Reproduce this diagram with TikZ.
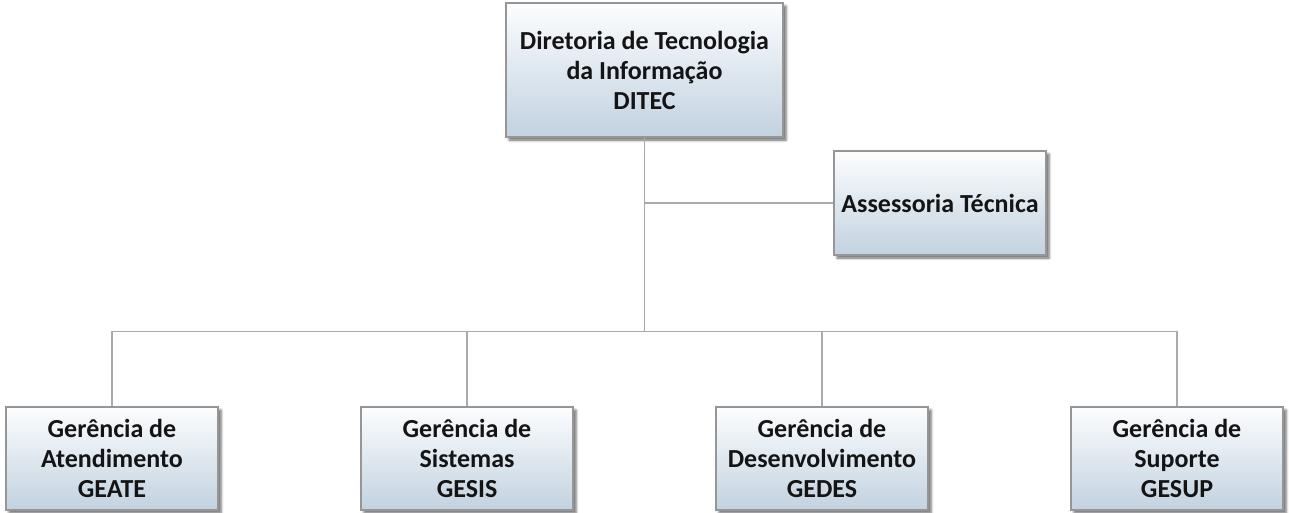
\documentclass[tikz,border=0pt]{standalone}
\usepackage{fontspec}
\setmainfont{Carlito}
\usetikzlibrary{shadows.blur}
\definecolor{boxtop}{RGB}{252,253,254}
\definecolor{boxbottom}{RGB}{194,210,224}
\definecolor{boxline}{RGB}{150,150,150}
\definecolor{linkgray}{RGB}{170,170,170}
\definecolor{inkdark}{RGB}{20,20,20}
\begin{document}
\begin{tikzpicture}[x=1pt, y=1pt,
    edge from parent path=
    {(\tikzparentnode.south) |- ([yshift=75pt]\tikzchildnode.north)
                             -- (\tikzchildnode.north)},
    edge from parent/.style={draw=linkgray, line width=1.3pt},
    level 1/.style={sibling distance=355pt},
    level distance=388.5pt,
    orgbox/.style={draw=boxline, line width=1.1pt, top color=boxtop, bottom color=boxbottom,
       blur shadow={shadow xshift=3pt, shadow yshift=-3pt, shadow blur radius=2.5pt, shadow opacity=60},
       text=inkdark, align=center, inner sep=0pt,
       font=\bfseries\fontsize{26}{30}\selectfont},
   every node/.style={orgbox, minimum width=212pt, minimum height=103pt}]

\useasboundingbox (0,0) rectangle (1289,-512);

\node[minimum width=277pt, minimum height=134pt] (ditec) at (644.5,-70)
    {Diretoria de Tecnologia\\da Informação\\DITEC}
    child {node (geate) {Gerência de\\Atendimento\\GEATE}}
    child {node (gesis) {Gerência de\\Sistemas\\GESIS}}
    child {node (gedes) {Gerência de\\Desenvolvimento\\GEDES}}
    child {node (gesup) {Gerência de\\Suporte\\GESUP}};

% assessoria ao lado do tronco
\node[minimum height=104pt] (asstec) at (940,-203) {Assessoria Técnica};
\coordinate (trunk) at (ditec.south |- asstec.west);
\draw[linkgray, line width=1.3pt] (trunk) -- (asstec.west);

\end{tikzpicture}
\end{document}
